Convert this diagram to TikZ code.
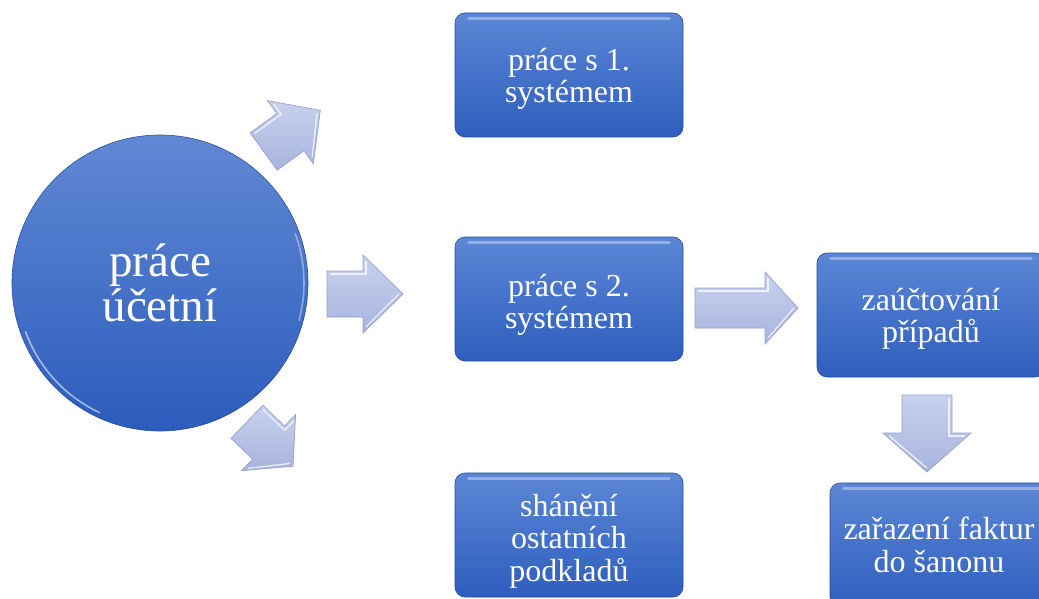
\documentclass[tikz,border=0pt]{standalone}
\usepackage{fontspec}
\setmainfont{Liberation Serif}
\usetikzlibrary{calc}
\definecolor{boxtop}{RGB}{92,135,214}
\definecolor{boxbot}{RGB}{46,94,190}
\definecolor{circtop}{RGB}{96,136,212}
\definecolor{circbot}{RGB}{44,92,188}
\definecolor{arrtop}{RGB}{200,209,238}
\definecolor{arrbot}{RGB}{168,180,222}
\definecolor{arredge}{RGB}{150,162,205}
\tikzset{
  boxnode/.style={rectangle, rounded corners=10pt, minimum width=228pt, minimum height=124pt,
    top color=boxtop, bottom color=boxbot, draw=boxbot!80!black, line width=0.6pt},
  boxtext/.style={text=white, align=center, inner sep=0pt,
    font=\fontsize{32}{32.5}\selectfont},
  circnode/.style={circle, minimum size=296pt, inner sep=0pt,
    top color=circtop, bottom color=circbot, draw=circbot!85!black, line width=0.6pt,
    text=white, align=center, font=\fontsize{47}{47}\selectfont},
  arrowshape/.style={top color=arrtop, bottom color=arrbot, draw=arredge, line width=0.7pt, line join=miter},
  bevel/.style={draw=white, opacity=0.75, line width=1.3pt},
  gloss/.style={draw=white, opacity=0.35, line width=3pt, line cap=round},
  glint/.style={draw=white, opacity=0.55, line width=1.6pt, line cap=round}
}
% #1 name, #2 cx, #3 cy, #4 angle, #5 length, #6 shaft half width, #7 head half width, #8 head length
\newcommand\blockarr[8]{%
  \begin{scope}[shift={(#2,#3)}, rotate=#4]
    \coordinate (#1) at (0,0);
    \path[arrowshape] (-#5/2,-#6) -- (#5/2-#8,-#6) -- (#5/2-#8,-#7) -- (#5/2,0)
       -- (#5/2-#8,#7) -- (#5/2-#8,#6) -- (-#5/2,#6) -- cycle;
    \path[bevel] (-#5/2+3,-#6+3) -- (#5/2-#8+3,-#6+3) -- (#5/2-#8+3,-#7+6);
    \path[bevel] (#5/2-#8+3,#7-6) -- (#5/2-4,0);
  \end{scope}}
\begin{document}
\begin{tikzpicture}[x=1pt,y=-1pt]
\useasboundingbox (0,0) rectangle (1039,599);
\clip (0,0) rectangle (1039,599);
\fill[white] (0,0) rectangle (1039,599);

% circle
\node[circnode] (circ) at (160,283) {práce\\[-2pt]účetní};
\draw[glint] ($(circ.center)+(160:143)$) arc[start angle=160, end angle=115, radius=143];
\draw[glint, opacity=0.4] ($(circ.center)+(15:144)$) arc[start angle=15, end angle=-20, radius=144];

% boxes
\node[boxnode] (b1) at (569,75) {};
\node[boxnode] (b2) at (569,299) {};
\node[boxnode] (b3) at (569,535) {};
\node[boxnode] (b4) at (931,315) {};
\node[boxnode] (b5) at (944,545) {};

% top gloss strips on boxes
\foreach \b in {b1,b2,b3,b4,b5}{
  \draw[gloss] ($(\b.north west)+(14,6)$) -- ($(\b.north east)+(-14,6)$);
}

% box texts
\node[boxtext] (t1) at ($(b1.center)+(0,4)$) {práce s 1.\\systémem};
\node[boxtext] (t2) at ($(b2.center)+(0,6)$) {práce s 2.\\systémem};
\node[boxtext] (t3) at ($(b3.center)+(0,6)$) {shánění\\ostatních\\podkladů};
\node[boxtext] (t4) at ($(b4.center)+(0,4)$) {zaúčtování\\případů};
\node[boxtext] (t5) at ($(b5.center)+(-5,0)$) {zařazení faktur\\do šanonu};

% block arrows
\blockarr{a1}{292}{131}{36}{70}{23}{39}{37}
\blockarr{a2}{365}{294}{0}{76}{23}{39}{40}
\blockarr{a3}{270}{444}{-44}{64}{23}{39}{34}
\blockarr{a4}{746.5}{308}{0}{103}{20}{36}{33}
\blockarr{a5}{927}{433.5}{-90}{77}{25}{44}{39}
\end{tikzpicture}
\end{document}
